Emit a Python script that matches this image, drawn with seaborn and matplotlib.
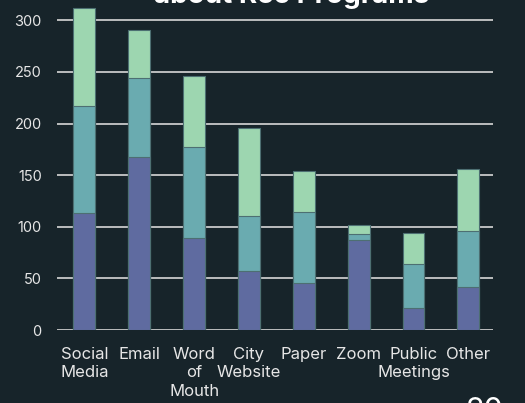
import numpy as np
import pandas as pd
import seaborn as sns
import matplotlib.pyplot as plt

# Values
categories = ["Social\nMedia", "Email", "Word\nof\nMouth", "City\nWebsite",
              "Paper", "Zoom", "Public\nMeetings", "Other"]
bottom_vals = [113, 168, 89, 57, 46, 87, 21, 42]     # purple
middle_vals = [104, 76, 88, 53, 68, 6, 43, 54]       # teal
top_vals = [95, 47, 69, 86, 40, 9, 30, 60]           # green
y_ticks = [0, 50, 100, 150, 200, 250, 300]

bg = "#17242a"
purple = "#5f6ba0"
teal = "#6aabb0"
green = "#9dd6b0"
text_col = "#e6e6e6"

sns.set_style("dark")
plt.rcParams["font.family"] = ["Inter", "DejaVu Sans"]

df = pd.DataFrame({
    "category": categories,
    "bottom": bottom_vals,
    "middle": middle_vals,
    "top": top_vals,
})
df["mid_cum"] = df["bottom"] + df["middle"]
df["total"] = df["mid_cum"] + df["top"]

fig = plt.figure(figsize=(5.25, 4.03), dpi=100, facecolor=bg)
ax = fig.add_axes([57 / 525, 73 / 403, 436 / 525, 330.3 / 403])
ax.set_facecolor(bg)

# stacked bars: draw cumulative totals back to front
for col, color in [("total", green), ("mid_cum", teal), ("bottom", purple)]:
    sns.barplot(data=df, x="category", y=col, color=color, width=0.4,
                edgecolor="#4d6f72", linewidth=0.8, saturation=1, ax=ax,
                zorder=3)

ax.set_ylim(0, 320)
ax.set_xlim(-0.5, 7.45)
ax.set_yticks(y_ticks)
ax.set_xlabel("")
ax.set_ylabel("")
ax.grid(False)
for y in y_ticks:
    ax.axhline(y, color="#d8d8d8", linewidth=1.2, zorder=1)
for s in ax.spines.values():
    s.set_visible(False)
ax.tick_params(axis="y", length=0, pad=11, labelsize=10.5, labelcolor=text_col)
ax.tick_params(axis="x", length=0, pad=12, labelsize=12, labelcolor=text_col)
for lab in ax.get_xticklabels():
    lab.set_linespacing(1.3)

fig.text(0.555, 1 - 3 / 403, "about Rec Programs", ha="center", va="baseline",
         fontsize=20, fontweight="bold", color="white")
fig.text(485 / 525, 1 - 397 / 403, "20", ha="center", va="top",
         fontsize=22, color="white")

fig.savefig("out.png", dpi=100, facecolor=bg)
